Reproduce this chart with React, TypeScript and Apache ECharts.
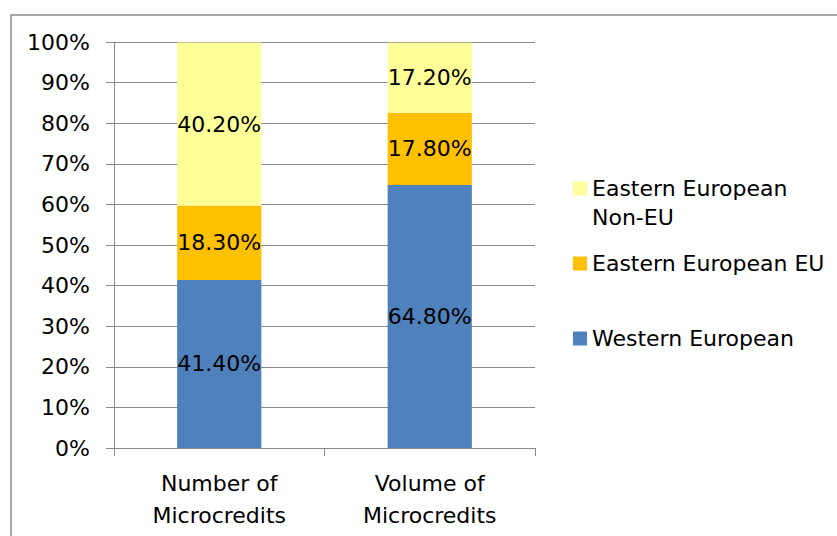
import React, { useEffect, useRef } from "react";
import * as echarts from "echarts";

const categories = ["Number of\nMicrocredits", "Volume of\nMicrocredits"];
const western = [41.4, 64.8];
const easternEU = [18.3, 17.8];
const easternNonEU = [40.2, 17.2];
const yTicks = [0, 10, 20, 30, 40, 50, 60, 70, 80, 90, 100];

const FONT = "DejaVu Sans";
const GRAY = "#8a8a8a";

export default function App() {
  const ref = useRef<HTMLDivElement>(null);
  useEffect(() => {
    if (!ref.current) return;
    const chart = echarts.init(ref.current, undefined, { renderer: "svg" });
    const label = {
      show: true,
      position: "inside",
      color: "#000",
      fontSize: 22,
      fontFamily: FONT,
      formatter: (p: any) => p.value.toFixed(2) + "%",
    };
    const legendBase = {
      orient: "vertical",
      left: 573,
      padding: 0,
      itemWidth: 14,
      itemHeight: 14,
      icon: "rect",
      selectedMode: false,
    };
    const legendText = { fontSize: 22, lineHeight: 29, color: "#000", fontFamily: FONT };
    chart.setOption({
      animation: false,
      textStyle: { fontFamily: FONT },
      grid: { left: 114, right: 302, top: 42, bottom: 88, containLabel: false },
      graphic: [
        {
          type: "rect",
          shape: { x: 11, y: 15, width: 900, height: 600 },
          style: { fill: "none", stroke: GRAY, lineWidth: 1.5 },
          silent: true,
        },
      ],
      legend: [
        {
          ...legendBase,
          top: 145,
          data: ["Eastern European Non-EU"],
          formatter: () => " \nEastern European\nNon-EU",
          textStyle: legendText,
        },
        {
          ...legendBase,
          top: 249,
          data: ["Eastern European EU"],
          textStyle: legendText,
        },
        {
          ...legendBase,
          top: 324,
          data: ["Western European"],
          textStyle: legendText,
        },
      ],
      xAxis: {
        type: "category",
        data: categories,
        axisLine: { lineStyle: { color: GRAY, width: 1 } },
        axisTick: { show: true, length: 8, lineStyle: { color: GRAY } },
        axisLabel: { color: "#000", fontSize: 22, lineHeight: 32, margin: 19, fontFamily: FONT },
      },
      yAxis: {
        type: "value",
        min: 0,
        max: 100,
        interval: 10,
        axisLine: { show: true, lineStyle: { color: GRAY, width: 1 } },
        axisTick: { show: true, length: 8, lineStyle: { color: GRAY } },
        splitLine: { show: true, lineStyle: { color: GRAY, width: 1 } },
        axisLabel: {
          color: "#000",
          fontSize: 22,
          margin: 24,
          fontFamily: FONT,
          formatter: (v: number) => (yTicks.includes(v) ? v + "%" : ""),
        },
      },
      series: [
        {
          name: "Western European",
          type: "bar",
          stack: "total",
          barWidth: "40%",
          data: western,
          itemStyle: { color: "#4F81BD" },
          label,
        },
        {
          name: "Eastern European EU",
          type: "bar",
          stack: "total",
          barWidth: "40%",
          data: easternEU,
          itemStyle: { color: "#FFC000" },
          label,
        },
        {
          name: "Eastern European Non-EU",
          type: "bar",
          stack: "total",
          barWidth: "40%",
          data: easternNonEU,
          itemStyle: { color: "#FFFF99" },
          label,
        },
      ],
    });
    return () => chart.dispose();
  }, []);
  return (
    <div
      ref={ref}
      style={{ position: "fixed", left: 0, top: 0, width: 837, height: 536, background: "#fff" }}
    />
  );
}
